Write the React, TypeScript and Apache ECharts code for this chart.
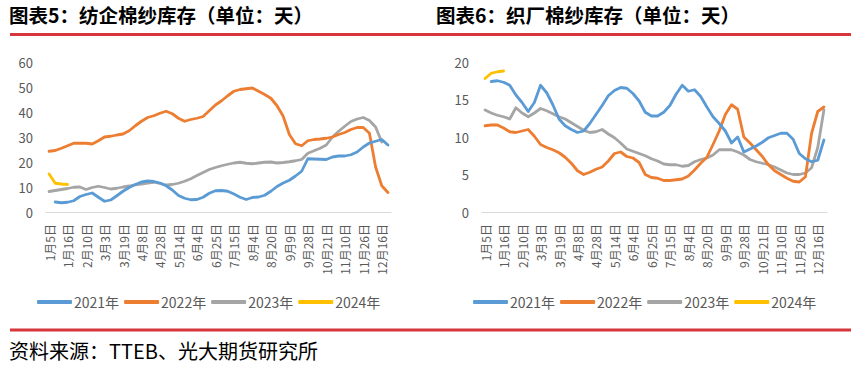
import React, { useEffect, useRef } from "react";
import * as echarts from "echarts";

const categories = [
  "1月5日", "1月8日", "1月12日", "1月16日", "1月23日", "2月3日", "2月10日", "2月17日", "2月24日",
  "3月3日", "3月8日", "3月14日", "3月19日", "3月26日", "4月1日", "4月8日", "4月15日", "4月21日",
  "4月28日", "5月3日", "5月8日", "5月14日", "5月21日", "5月28日", "6月4日", "6月11日", "6月18日",
  "6月25日", "7月2日", "7月8日", "7月15日", "7月22日", "7月28日", "8月4日", "8月10日", "8月15日",
  "8月20日", "8月27日", "9月2日", "9月9日", "9月15日", "9月22日", "9月28日", "10月13日", "10月17日",
  "10月21日", "10月28日", "11月3日", "11月10日", "11月15日", "11月20日", "11月26日", "12月2日",
  "12月9日", "12月16日", "12月23日",
];

const seriesNames = ["2021年", "2022年", "2023年", "2024年"];
const seriesColors = ["#5b9bd5", "#ed7d31", "#a5a5a5", "#ffc000"];

// 图表5：纺企棉纱库存（天）
const spin2021 = [null, 4.0, 3.7, 3.9, 4.5, 6.2, 7.0, 7.6, 5.9, 4.3, 4.8, 6.5, 8.3, 9.8, 11.0, 12.0, 12.4, 12.2, 11.6, 10.5, 8.8, 6.6, 5.5, 4.9, 5.0, 5.9, 7.5, 8.5, 8.6, 8.3, 7.2, 5.9, 5.0, 5.8, 6.0, 6.7, 8.3, 10.2, 11.6, 12.7, 14.4, 16.3, 21.3, 21.2, 21.1, 21.0, 22.0, 22.4, 22.4, 22.9, 24.0, 26.0, 27.6, 28.3, 29.0, 26.8];
const spin2022 = [24.3, 24.6, 25.5, 26.5, 27.5, 27.5, 27.5, 27.2, 28.5, 30.0, 30.3, 30.8, 31.2, 32.5, 34.5, 36.3, 37.8, 38.5, 39.5, 40.3, 39.3, 37.5, 36.3, 37.0, 37.5, 38.2, 40.5, 42.8, 44.5, 46.5, 48.3, 49.0, 49.3, 49.6, 48.3, 47.0, 45.5, 42.5, 38.3, 31.0, 27.3, 26.5, 28.5, 29.0, 29.2, 29.5, 30.0, 31.0, 31.8, 33.0, 33.8, 33.8, 31.5, 18.0, 10.5, 7.8];
const spin2023 = [8.2, 8.6, 9.0, 9.4, 9.9, 10.0, 9.0, 9.8, 10.3, 9.8, 9.2, 9.5, 10.0, 10.4, 10.9, 11.2, 11.6, 11.9, 11.4, 10.8, 11.0, 11.5, 12.3, 13.3, 14.6, 15.8, 17.0, 17.8, 18.5, 19.1, 19.6, 19.9, 19.5, 19.3, 19.6, 19.9, 20.0, 19.6, 19.8, 20.1, 20.5, 21.0, 23.5, 24.5, 25.5, 26.8, 30.0, 32.3, 34.3, 36.2, 37.2, 37.8, 36.6, 34.0, 28.0];
const spin2024 = [15.2, 11.5, 11.2, 11.0];

// 图表6：织厂棉纱库存（天）
const weave2021 = [null, 17.4, 17.5, 17.3, 16.9, 15.6, 14.6, 13.4, 14.6, 16.9, 15.9, 14.3, 12.4, 11.5, 11.0, 10.6, 10.8, 11.8, 13.0, 14.2, 15.5, 16.2, 16.6, 16.5, 15.8, 14.8, 13.3, 12.8, 12.8, 13.3, 14.2, 15.7, 16.9, 16.1, 16.3, 15.4, 14.0, 12.7, 11.8, 10.8, 9.2, 10.0, 8.0, 8.4, 8.8, 9.3, 9.9, 10.2, 10.5, 10.5, 9.7, 7.8, 7.1, 6.7, 6.9, 9.6];
const weave2022 = [11.5, 11.6, 11.6, 11.2, 10.7, 10.6, 10.8, 11.0, 10.1, 9.0, 8.6, 8.3, 7.9, 7.3, 6.5, 5.5, 5.0, 5.3, 5.7, 6.0, 6.8, 7.8, 8.0, 7.4, 7.2, 6.6, 5.0, 4.6, 4.5, 4.2, 4.2, 4.3, 4.4, 4.8, 5.6, 6.5, 7.3, 9.0, 10.8, 13.0, 14.3, 13.7, 10.0, 9.2, 8.3, 7.4, 6.3, 5.5, 5.0, 4.5, 4.1, 4.0, 4.7, 10.5, 13.4, 14.0];
const weave2023 = [13.6, 13.2, 12.9, 12.7, 12.4, 13.9, 13.2, 12.7, 13.2, 13.8, 13.5, 13.1, 12.7, 12.4, 11.9, 11.4, 10.9, 10.6, 10.7, 11.0, 10.4, 9.9, 9.2, 8.4, 8.1, 7.8, 7.5, 7.1, 6.8, 6.4, 6.3, 6.3, 6.1, 6.2, 6.7, 7.0, 7.2, 7.6, 8.3, 8.3, 8.3, 8.0, 7.6, 7.0, 6.7, 6.5, 6.3, 6.0, 5.6, 5.2, 5.0, 5.0, 5.2, 5.9, 8.6, 13.6];
const weave2024 = [17.8, 18.5, 18.7, 18.8];

const leftTitle = "图表5：纺企棉纱库存（单位：天）";
const rightTitle = "图表6：织厂棉纱库存（单位：天）";
const sourceText = "资料来源：TTEB、光大期货研究所";

const FONT = "'Noto Sans CJK SC', 'Noto Sans', sans-serif";
const LABEL = "#595959";

export default function App() {
  const ref = useRef<HTMLDivElement>(null);

  useEffect(() => {
    document.body.style.margin = "0";
    const chart = echarts.init(ref.current!, undefined, { renderer: "svg" });

    const xAxisBase = (gridIndex: number) => ({
      type: "category",
      gridIndex,
      data: categories,
      boundaryGap: true,
      axisLine: { show: true, lineStyle: { color: "#d9d9d9", width: 1 } },
      axisTick: { show: false },
      axisLabel: {
        interval: 2,
        rotate: 90,
        margin: 12,
        color: LABEL,
        fontSize: 12,
        fontFamily: FONT,
      },
      splitLine: { show: false },
    });

    const yAxisBase = (gridIndex: number, max: number, interval: number) => ({
      type: "value",
      gridIndex,
      min: 0,
      max,
      interval,
      axisLine: { show: false },
      axisTick: { show: false },
      splitLine: { show: false },
      axisLabel: { color: LABEL, fontSize: 13, margin: 13, fontFamily: FONT },
    });

    const mk = (name: string, idx: number, data: (number | null)[], gi: number) => ({
      name,
      type: "line",
      xAxisIndex: gi,
      yAxisIndex: gi,
      data,
      showSymbol: false,
      symbol: "none",
      smooth: false,
      connectNulls: false,
      lineStyle: { color: seriesColors[idx], width: 2.8, cap: "round", join: "round" },
      itemStyle: { color: seriesColors[idx] },
      z: 10 - idx,
    });

    const legendBase = (left: number) => ({
      left,
      top: 295,
      padding: 0,
      orient: "horizontal",
      icon: "roundRect",
      itemWidth: 35,
      itemHeight: 4,
      itemGap: 5,
      data: seriesNames,
      textStyle: { color: LABEL, fontSize: 14, fontFamily: FONT, padding: [0, 0, 0, -3] },
      selectedMode: false,
    });

    chart.setOption({
      animation: false,
      backgroundColor: "#ffffff",
      grid: [
        { left: 46, top: 62, width: 345, height: 150, containLabel: false },
        { left: 482, top: 62, width: 345, height: 150, containLabel: false },
      ],
      xAxis: [xAxisBase(0), xAxisBase(1)],
      yAxis: [yAxisBase(0, 60, 10), yAxisBase(1, 20, 5)],
      legend: [legendBase(37), legendBase(473)],
      series: [
        mk(seriesNames[0], 0, spin2021, 0),
        mk(seriesNames[1], 1, spin2022, 0),
        mk(seriesNames[2], 2, spin2023, 0),
        mk(seriesNames[3], 3, spin2024, 0),
        mk(seriesNames[0], 0, weave2021, 1),
        mk(seriesNames[1], 1, weave2022, 1),
        mk(seriesNames[2], 2, weave2023, 1),
        mk(seriesNames[3], 3, weave2024, 1),
      ],
      graphic: [
        {
          type: "text",
          left: 9,
          top: 5,
          style: { text: leftTitle, fill: "#000", font: `bold 19.5px ${FONT}` },
        },
        {
          type: "text",
          left: 436,
          top: 5,
          style: { text: rightTitle, fill: "#000", font: `bold 19.5px ${FONT}` },
        },
        {
          type: "line",
          shape: { x1: 10, y1: 34.5, x2: 851, y2: 34.5 },
          style: { stroke: "#d6363c", lineWidth: 3 },
        },
        {
          type: "line",
          shape: { x1: 10, y1: 330, x2: 851, y2: 330 },
          style: { stroke: "#d6363c", lineWidth: 3 },
        },
        {
          type: "text",
          left: 9,
          top: 340,
          style: { text: sourceText, fill: "#000", font: `20px ${FONT}` },
        },
      ],
    });

    return () => chart.dispose();
  }, []);

  return (
    <div
      ref={ref}
      style={{ position: "absolute", left: 0, top: 0, width: 863, height: 373 }}
    />
  );
}
